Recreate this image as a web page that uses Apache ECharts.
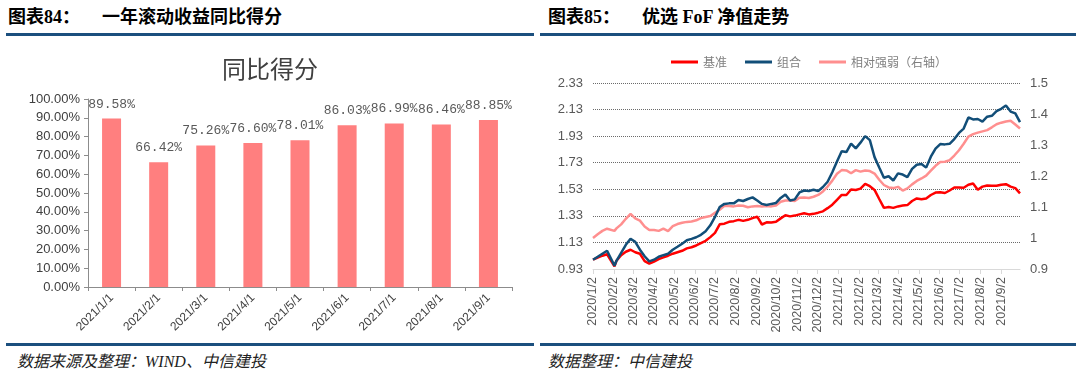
<!DOCTYPE html>
<html>
<head>
<meta charset="utf-8">
<script src="https://cdn.jsdelivr.net/npm/echarts@6/dist/echarts.min.js"></script>
<style>
  html, body { margin:0; padding:0; background:#fff; }
  body { width:1080px; height:380px; position:relative; overflow:hidden; }
  .head { position:absolute; top:5px; font-family:"Liberation Serif","Noto Sans CJK SC",serif; font-weight:bold; font-size:18px; line-height:24px; color:#000; white-space:nowrap; }
  .head .gap { display:inline-block; width:22px; }
  .rule { position:absolute; height:3px; background:#1b4f7e; }
  .foot { position:absolute; top:351px; font-family:"Liberation Serif","Noto Sans CJK SC",serif; font-style:italic; font-size:16px; line-height:22px; color:#222; white-space:nowrap; }
  .chart { position:absolute; top:0; width:540px; height:380px; }
</style>
</head>
<body>
<div class="head" style="left:8px;">图表84：<span class="gap"></span>一年滚动收益同比得分</div>
<div class="head" style="left:548px;">图表85：<span class="gap"></span>优选 FoF 净值走势</div>
<div class="rule" style="left:6px; top:33px; width:528px;"></div>
<div class="rule" style="left:540px; top:33px; width:536px;"></div>
<div class="rule" style="left:6px; top:343px; width:528px;"></div>
<div class="rule" style="left:540px; top:343px; width:536px;"></div>
<div class="foot" style="left:17px;">数据来源及整理：WIND、中信建投</div>
<div class="foot" style="left:548px;">数据整理：中信建投</div>
<div id="c1" class="chart" style="left:0;"></div>
<div id="c2" class="chart" style="left:540px;"></div>
<script>
// ---------- Chart 84 data ----------
const barCategories = ['2021/1/1','2021/2/1','2021/3/1','2021/4/1','2021/5/1','2021/6/1','2021/7/1','2021/8/1','2021/9/1'];
const barValues = [89.58, 66.42, 75.26, 76.60, 78.01, 86.03, 86.99, 86.46, 88.85];

// ---------- Chart 85 data ----------
const navDates = [
 '2020-01-02','2020-01-09','2020-01-16','2020-01-23','2020-02-03','2020-02-06','2020-02-13','2020-02-20','2020-02-27','2020-03-05',
 '2020-03-12','2020-03-19','2020-03-26','2020-04-02','2020-04-09','2020-04-16','2020-04-23','2020-04-30','2020-05-07','2020-05-14',
 '2020-05-21','2020-05-28','2020-06-04','2020-06-11','2020-06-18','2020-06-25','2020-07-02','2020-07-09','2020-07-16','2020-07-23',
 '2020-07-30','2020-08-06','2020-08-13','2020-08-20','2020-08-27','2020-09-03','2020-09-10','2020-09-17','2020-09-24','2020-10-01',
 '2020-10-08','2020-10-15','2020-10-22','2020-10-29','2020-11-05','2020-11-12','2020-11-19','2020-11-26','2020-12-03','2020-12-10',
 '2020-12-17','2020-12-24','2020-12-31','2021-01-07','2021-01-14','2021-01-21','2021-01-28','2021-02-04','2021-02-11','2021-02-18',
 '2021-02-25','2021-03-04','2021-03-11','2021-03-18','2021-03-25','2021-04-01','2021-04-08','2021-04-15','2021-04-22','2021-04-29',
 '2021-05-06','2021-05-13','2021-05-20','2021-05-27','2021-06-03','2021-06-10','2021-06-17','2021-06-24','2021-07-01','2021-07-08',
 '2021-07-15','2021-07-22','2021-07-29','2021-08-05','2021-08-12','2021-08-19','2021-08-26','2021-09-02','2021-09-09','2021-09-16',
 '2021-09-23','2021-09-30'
];
const benchmark = [
 1.000,1.015,1.030,1.041,0.950,0.992,1.034,1.060,1.075,1.056,
 1.045,0.989,0.970,0.985,1.004,1.017,1.030,1.045,1.056,1.067,
 1.085,1.094,1.107,1.125,1.142,1.170,1.202,1.266,1.271,1.285,
 1.290,1.300,1.292,1.300,1.313,1.324,1.265,1.281,1.280,1.285,
 1.311,1.335,1.326,1.332,1.341,1.349,1.341,1.345,1.354,1.364,
 1.388,1.414,1.451,1.487,1.487,1.528,1.525,1.535,1.571,1.553,
 1.525,1.457,1.390,1.397,1.390,1.401,1.408,1.411,1.442,1.461,
 1.455,1.461,1.487,1.505,1.508,1.502,1.521,1.543,1.544,1.542,
 1.564,1.573,1.526,1.550,1.559,1.556,1.556,1.564,1.568,1.550,
 1.539,1.499
];
const portfolio = [
 1.000,1.022,1.045,1.067,0.955,0.992,1.052,1.112,1.157,1.135,
 1.075,1.026,0.987,1.000,1.022,1.034,1.045,1.075,1.097,1.120,
 1.146,1.157,1.169,1.187,1.214,1.259,1.322,1.397,1.420,1.424,
 1.424,1.450,1.442,1.457,1.469,1.445,1.420,1.412,1.420,1.427,
 1.465,1.490,1.446,1.454,1.506,1.521,1.517,1.527,1.517,1.547,
 1.587,1.658,1.739,1.817,1.810,1.874,1.838,1.881,1.930,1.900,
 1.772,1.694,1.617,1.628,1.596,1.650,1.641,1.622,1.684,1.715,
 1.721,1.693,1.775,1.836,1.870,1.868,1.872,1.908,1.954,1.987,
 2.071,2.056,2.059,2.040,2.076,2.083,2.118,2.136,2.161,2.115,
 2.101,2.035
];
const relStrength = [
 1.000,1.012,1.023,1.030,1.023,1.031,1.044,1.062,1.078,1.063,
 1.056,1.037,1.026,1.026,1.023,1.030,1.022,1.038,1.045,1.049,
 1.052,1.053,1.057,1.064,1.068,1.071,1.081,1.091,1.104,1.103,
 1.102,1.105,1.104,1.099,1.102,1.103,1.102,1.103,1.102,1.105,
 1.117,1.121,1.121,1.119,1.130,1.131,1.129,1.133,1.139,1.150,
 1.166,1.185,1.207,1.219,1.218,1.209,1.219,1.214,1.218,1.216,
 1.208,1.188,1.171,1.163,1.161,1.165,1.153,1.160,1.173,1.184,
 1.192,1.201,1.217,1.233,1.245,1.246,1.251,1.266,1.283,1.304,
 1.327,1.335,1.340,1.344,1.348,1.357,1.367,1.372,1.376,1.378,
 1.366,1.353
];
const navTickLabels = ['2020/1/2','2020/2/2','2020/3/2','2020/4/2','2020/5/2','2020/6/2','2020/7/2','2020/8/2','2020/9/2','2020/10/2','2020/11/2','2020/12/2',
 '2021/1/2','2021/2/2','2021/3/2','2021/4/2','2021/5/2','2021/6/2','2021/7/2','2021/8/2','2021/9/2'];
const seriesNames = ['基准','组合','相对强弱（右轴）'];

function toTime(s){ const p = s.split(/[-\/]/).map(Number); return new Date(p[0], p[1]-1, p[2]).getTime(); }
const tickTimes = navTickLabels.map(toTime);

// ---------- Chart 84 ----------
const c1 = echarts.init(document.getElementById('c1'));
c1.setOption({
  animation:false,
  title:{ text:'同比得分', left:'center', top:52, textStyle:{ fontFamily:'Noto Sans CJK SC', fontSize:24, fontWeight:'normal', color:'#404040' } },
  grid:{ left:88, right:28, top:99, bottom:93, containLabel:false },
  xAxis:{ type:'category', data:barCategories,
    axisLine:{ lineStyle:{ color:'#8c8c8c' } },
    axisTick:{ show:true, length:4, lineStyle:{ color:'#8c8c8c' } },
    axisLabel:{ rotate:45, margin:9, fontSize:12, color:'#404040', fontFamily:'Liberation Sans' } },
  yAxis:{ type:'value', min:0, max:100, interval:10,
    axisLine:{ show:true, lineStyle:{ color:'#8c8c8c' } },
    axisTick:{ show:true, length:4, lineStyle:{ color:'#8c8c8c' } },
    splitLine:{ show:false },
    axisLabel:{ formatter:v=>v.toFixed(2)+'%', fontSize:13, color:'#404040', fontFamily:'Liberation Sans', margin:8 } },
  series:[{ type:'bar', data:barValues, barWidth:19,
    itemStyle:{ color:'#ff7f7f' },
    label:{ show:true, position:'top', distance:8, formatter:p=>p.value.toFixed(2)+'%',
      fontFamily:'Liberation Mono', fontSize:13, color:'#595959' } }]
});

// ---------- Chart 85 ----------
const c2 = echarts.init(document.getElementById('c2'));
const mk = arr => navDates.map((d,i)=>[toTime(d), arr[i]]);
c2.setOption({
  animation:false,
  legend:{ left:126, top:51, icon:'rect', itemWidth:27, itemHeight:3, itemGap:18,
    textStyle:{ fontFamily:'Noto Sans CJK SC', fontSize:12, color:'#7f7f7f' },
    data:seriesNames },
  grid:{ left:53, right:60, top:83, bottom:111, containLabel:false },
  xAxis:{ type:'value', min:toTime('2020-01-02'), max:toTime('2021-09-30'),
    axisLine:{ lineStyle:{ color:'#d9d9d9' } },
    axisTick:{ show:true, length:5, customValues:tickTimes, lineStyle:{ color:'#d9d9d9' } },
    splitLine:{ show:false },
    axisLabel:{ customValues:tickTimes, rotate:90, margin:8, fontSize:12.5, color:'#595959', fontFamily:'Liberation Sans',
      formatter:v=>{ const i = tickTimes.findIndex(t=>Math.abs(t-v)<43200000); return i>=0?navTickLabels[i]:''; } } },
  yAxis:[
    { type:'value', min:0.93, max:2.33, interval:0.2,
      axisLine:{ show:false }, axisTick:{ show:false },
      splitLine:{ show:true, showMinLine:false, lineStyle:{ type:'dotted', color:'#6b6b6b', width:1 } },
      axisLabel:{ formatter:v=>v.toFixed(2), fontSize:13, color:'#595959', fontFamily:'Liberation Sans', margin:10 } },
    { type:'value', position:'right', min:0.9, max:1.5, interval:0.1,
      axisLine:{ show:false }, axisTick:{ show:false }, splitLine:{ show:false },
      axisLabel:{ formatter:v=>String(parseFloat(v.toFixed(1))), fontSize:13, color:'#595959', fontFamily:'Liberation Sans', margin:10 } }
  ],
  series:[
    { name:seriesNames[2], type:'line', yAxisIndex:1, data:mk(relStrength), showSymbol:false, lineStyle:{ width:2.5, color:'#ff8f8f' }, itemStyle:{ color:'#ff8f8f' } },
    { name:seriesNames[0], type:'line', yAxisIndex:0, data:mk(benchmark), showSymbol:false, lineStyle:{ width:2.5, color:'#ff0000' }, itemStyle:{ color:'#ff0000' } },
    { name:seriesNames[1], type:'line', yAxisIndex:0, data:mk(portfolio), showSymbol:false, lineStyle:{ width:2.5, color:'#124e78' }, itemStyle:{ color:'#124e78' } }
  ]
});
</script>
</body>
</html>
